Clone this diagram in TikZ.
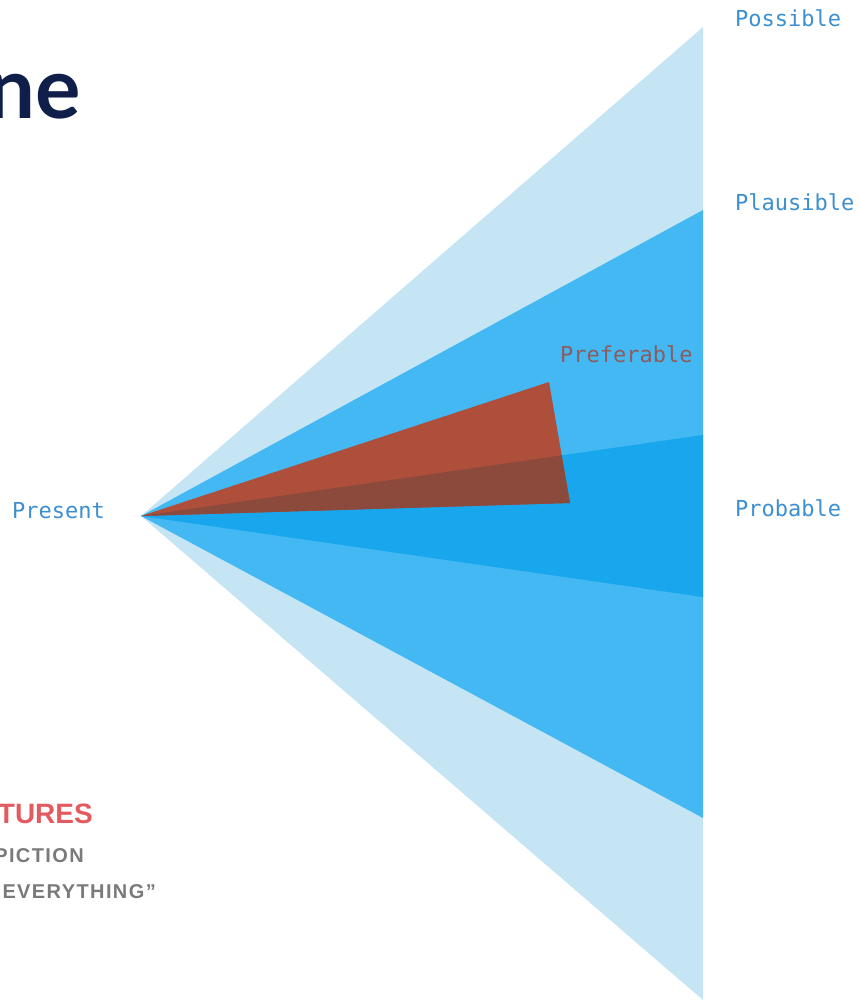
\documentclass[tikz,border=0pt]{standalone}
\usepackage{fontspec}
\setmainfont{Lato}
\newfontfamily\monofont{DejaVu Sans Mono}
\newfontfamily\sidefont{Liberation Sans}
\newfontfamily\spacedfont[LetterSpace=7]{Liberation Sans}
\definecolor{lightcone}{HTML}{C5E5F5}
\definecolor{midcone}{HTML}{43B8F2}
\definecolor{deepcone}{HTML}{18A6EC}
\definecolor{prefred}{HTML}{AE4F3B}
\definecolor{prefdeep}{HTML}{8C4A3D}
\definecolor{labelblue}{HTML}{3C8FD0}
\definecolor{preflabel}{HTML}{8C5C5E}
\definecolor{navy}{HTML}{101E4A}
\definecolor{headred}{HTML}{E35B60}
\definecolor{headgray}{HTML}{7A7A7A}
\tikzset{
  conelabel/.style={font=\monofont\fontsize{22}{22}\selectfont, text=labelblue, anchor=base west, inner sep=0pt},
  sidetext/.style={font=\spacedfont\bfseries\fontsize{20}{20}\selectfont, text=headgray, anchor=base east, inner sep=0pt}
}
\begin{document}
\begin{tikzpicture}[x=1pt,y=-1pt]
    \useasboundingbox (0,0) rectangle (860,1002);
    \coordinate (present) at (141,516);
    % cones, widest first
    \foreach \top/\bot/\col in {27/1000/lightcone,210/818/midcone,435/597/deepcone}
        \fill[\col] (present) -- (703,\top) -- (703,\bot) -- cycle;
    \coordinate (prefA) at (549,382);
    \coordinate (prefB) at (570,503);
    \fill[prefred] (present) -- (prefA) -- (prefB) -- cycle;
    \begin{scope}
        \clip (present) -- (703,435) -- (703,597) -- cycle;
        \fill[prefdeep] (present) -- (prefA) -- (prefB) -- cycle;
    \end{scope}
    % labels
    \node[conelabel] (possible) at (735,26) {Possible};
    \node[conelabel] (plausible) at (735,210) {Plausible};
    \node[conelabel,text=preflabel] (preferable) at (560,362) {Preferable};
    \node[conelabel] (probable) at (735,516) {Probable};
    \node[conelabel] (presentlabel) at (12,518) {Present};
    % cut-off heading texts
    \node[font=\bfseries\fontsize{85}{85}\selectfont, text=navy, anchor=base east, inner sep=0pt] (title) at (81,118) {ne};
    \node[sidetext,text=headred,font=\sidefont\bfseries\fontsize{28}{28}\selectfont] (futures) at (93,823) {TURES};
    \node[sidetext] (depiction) at (84,862) {PICTION};
    \node[sidetext] (everything) at (156,898) {EVERYTHING”};
\end{tikzpicture}
\end{document}
